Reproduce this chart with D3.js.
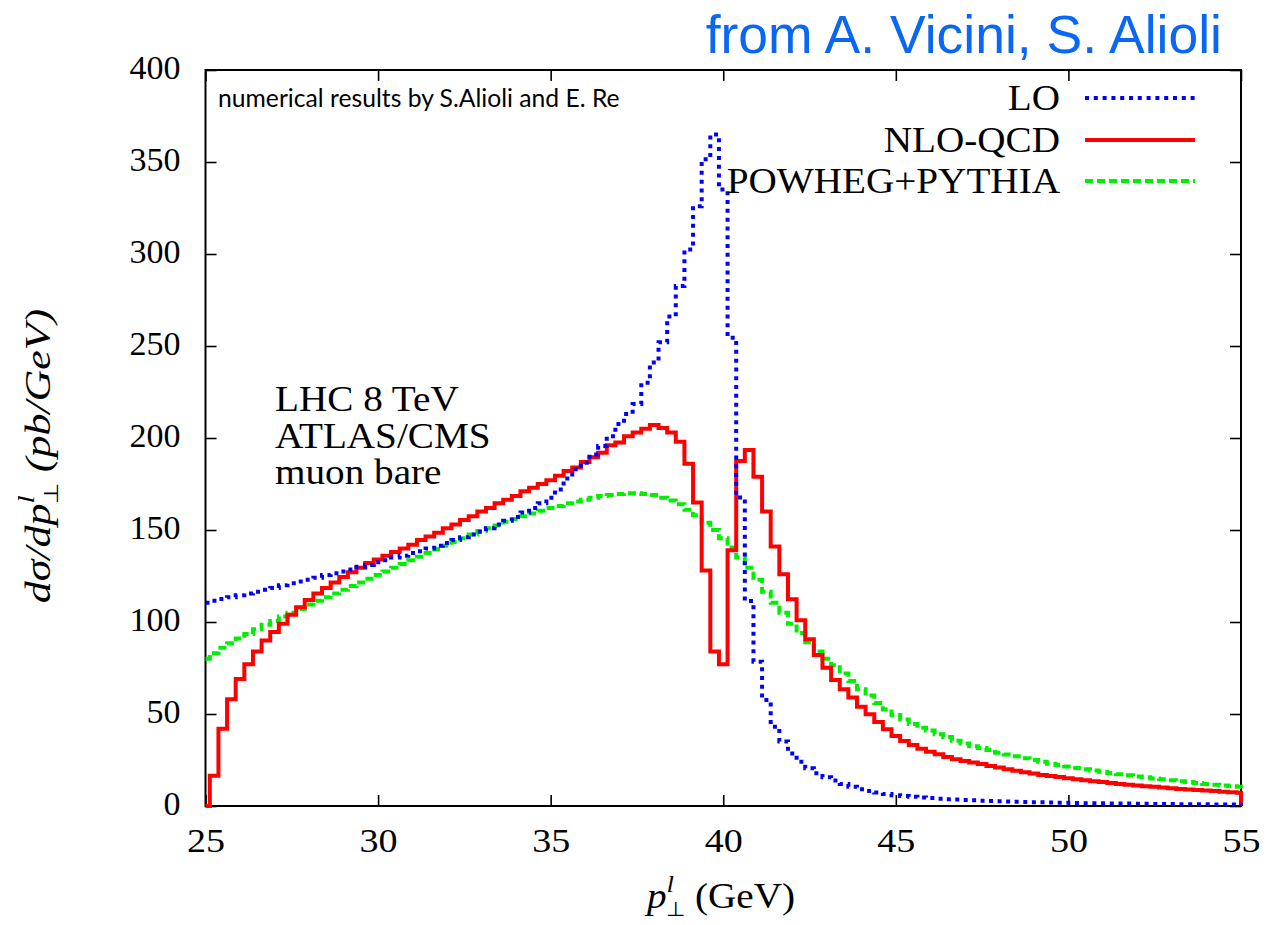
<!DOCTYPE html>
<html>
<head>
<meta charset="utf-8">
<script src="https://cdn.jsdelivr.net/npm/d3@7"></script>
<style>
  body { margin: 0; background: #fff; }
  svg { display: block; }
  .tick text { font-family: 'Liberation Serif', serif; font-size: 34px; fill: #000; }
</style>
</head>
<body>
<div id="chart"></div>
<script>
// Histogram bins: 0.25 GeV wide, one value per bin centre from 25 to 55 GeV
const binStart = 25;
const binWidth = 0.25;

const xTicks = [25, 30, 35, 40, 45, 50, 55];
const yTicks = [0, 50, 100, 150, 200, 250, 300, 350, 400];

// LO (blue, dotted)
const loValues = [
  110.5, 111.5, 112.5, 113.5, 114.5, 115.5, 116.5, 117.5, 118.5, 120,
  121, 122, 123, 124, 125.5, 126.5, 127.5, 128.5, 130, 131,
  132.5, 133.5, 135, 136, 137.5, 138.5, 140, 141.5, 143, 144.5,
  146, 147.5, 149, 151, 153, 155, 157, 159.5, 162, 164.5,
  167.5, 172, 178, 183, 186.6, 191, 195.6, 201, 207.6, 213,
  218.5, 230, 241, 252, 266, 282.6, 302.5, 326, 351.5, 365,
  335, 254.5, 167.6, 111.4, 78.4, 57.6, 43.1, 35, 28.6, 24,
  20.5, 17.8, 15.6, 13.8, 12, 10.5, 9.1, 8.2, 7.3, 6.5,
  5.9, 5.4, 5.0, 4.6, 4.3, 4.0, 3.7, 3.5, 3.3, 3.1,
  2.9, 2.75, 2.6, 2.45, 2.3, 2.2, 2.1, 2.0, 1.9, 1.8,
  1.7, 1.6, 1.55, 1.5, 1.45, 1.4, 1.35, 1.3, 1.25, 1.2,
  1.15, 1.1, 1.05, 1.0, 0.97, 0.94, 0.91, 0.88, 0.85, 0.82,
  0.8
];

// NLO-QCD (red, solid)
const nloValues = [
  0, 16.5, 42, 58, 69, 77, 84, 90, 94.5, 99,
  104, 108, 112, 115.5, 118.5, 121.5, 124.5, 127, 129.5, 132,
  134, 136, 138, 140, 142, 144.5, 146.5, 148.5, 151, 153,
  155.5, 157.5, 160, 162, 164.5, 166.5, 168.5, 171, 173, 175,
  177, 179.5, 182, 184, 187, 189.5, 192, 196, 197.5, 201,
  203, 205, 207, 205.5, 203, 198, 186, 165, 128, 84,
  77, 139, 187.5, 193.5, 179, 160, 141, 126, 112.3, 101,
  90.6, 82, 75.2, 68.5, 63.4, 58.9, 54, 49.8, 45.6, 41.7,
  38, 35.3, 33.2, 31.1, 29.5, 28.1, 26.6, 25.4, 24.5, 23.6,
  22.8, 21.8, 20.9, 20.0, 19.2, 18.4, 17.6, 16.9, 16.3, 15.7,
  15.1, 14.5, 14.0, 13.5, 13.0, 12.5, 12.0, 11.6, 11.2, 10.8,
  10.4, 10.0, 9.7, 9.3, 9.0, 8.7, 8.4, 8.1, 7.8, 7.5,
  7.2
];

// POWHEG+PYTHIA (green, dashed)
const powhegValues = [
  80, 83, 86, 88.5, 91, 93.5, 96, 98.5, 100.5, 103,
  105, 107, 109.5, 111.5, 113.5, 115.5, 117.5, 119.5, 121.5, 123.5,
  125.5, 127.5, 129.5, 131.5, 133.5, 135.5, 137.5, 139.5, 141.5, 143.5,
  145.5, 147.5, 149.5, 151, 152.5, 154.5, 156, 157.5, 159, 160.5,
  162, 163, 164.5, 165.5, 166.5, 167.5, 168.5, 169, 169.5, 170,
  170, 169.5, 169, 167.5, 166, 164, 161, 158, 154, 150,
  145.5, 140.5, 135, 129.5, 123, 116.5, 110.5, 105, 99, 94,
  89, 84, 80, 76.5, 72, 68, 63.5, 60, 56, 52.5,
  49.5, 47, 44.5, 42.5, 41, 39, 37.5, 35.5, 34, 32.5,
  31.5, 30.5, 29, 28, 27, 26, 25, 24, 23, 22.3,
  21.5, 20.7, 20, 19.3, 18.6, 18, 17.3, 16.7, 16.1, 15.6,
  15, 14.5, 14, 13.5, 13, 12.5, 12, 11.6, 11.2, 10.8,
  10.4
];

const seriesNames = ['LO', 'NLO-QCD', 'POWHEG+PYTHIA'];
const infoLines = ['LHC 8 TeV', 'ATLAS/CMS', 'muon bare'];

const width = 1269;
const height = 925;
const plotLeft = 205.5;
const plotRight = 1241;
const plotTop = 70;
const plotBottom = 806;

// Computer Modern is wider than Liberation Serif: stretch serif text a bit
const cmStretch = 1.12;
const serif = 'Liberation Serif, serif';

const svg = d3
  .select('#chart')
  .append('svg')
  .attr('width', width)
  .attr('height', height);

// Scales
const x = d3.scaleLinear().domain([25, 55]).range([plotLeft, plotRight]);
const y = d3.scaleLinear().domain([0, 400]).range([plotBottom, plotTop]);

// X axis (ticks inside)
svg
  .append('g')
  .attr('transform', `translate(0,${plotBottom})`)
  .call(d3.axisBottom(x).tickValues(xTicks).tickSize(-11).tickPadding(22))
  .call((g) => g.select('.domain').remove())
  .call((g) => g.selectAll('.tick line').attr('stroke', '#000').attr('stroke-width', 1.6))
  .call((g) => g.selectAll('.tick text').attr('transform', `scale(${cmStretch},1)`));

// Mirror ticks on top
svg
  .append('g')
  .attr('transform', `translate(0,${plotTop})`)
  .call(d3.axisTop(x).tickValues(xTicks).tickSize(-11).tickFormat(''))
  .call((g) => g.select('.domain').remove())
  .call((g) => g.selectAll('.tick line').attr('stroke', '#000').attr('stroke-width', 1.6));

// Y axis (ticks inside)
svg
  .append('g')
  .attr('transform', `translate(${plotLeft},0)`)
  .call(d3.axisLeft(y).tickValues(yTicks).tickSize(-11).tickPadding(25))
  .call((g) => g.select('.domain').remove())
  .call((g) => g.selectAll('.tick line').attr('stroke', '#000').attr('stroke-width', 1.6))
  .call((g) => g.selectAll('.tick text').attr('dy', '0.24em'));

// Mirror ticks on the right
svg
  .append('g')
  .attr('transform', `translate(${plotRight},0)`)
  .call(d3.axisRight(y).tickValues(yTicks).tickSize(-11).tickFormat(''))
  .call((g) => g.select('.domain').remove())
  .call((g) => g.selectAll('.tick line').attr('stroke', '#000').attr('stroke-width', 1.6));

// Frame
svg
  .append('rect')
  .attr('x', plotLeft)
  .attr('y', plotTop)
  .attr('width', plotRight - plotLeft)
  .attr('height', plotBottom - plotTop)
  .attr('fill', 'none')
  .attr('stroke', '#000')
  .attr('stroke-width', 2);

// Build histogram points, closed to zero at the right edge like gnuplot histeps
const toPoints = (values) => {
  const pts = values.map((v, i) => ({ x: binStart + i * binWidth, y: v }));
  pts.push({ x: pts[pts.length - 1].x, y: 0 });
  return pts;
};

const line = d3
  .line()
  .x((d) => x(d.x))
  .y((d) => y(d.y))
  .curve(d3.curveStep);

const series = [
  { name: seriesNames[0], values: loValues, color: '#0000ff', dash: '4,4.8' },
  { name: seriesNames[1], values: nloValues, color: '#ff0000', dash: null },
  { name: seriesNames[2], values: powhegValues, color: '#00ee00', dash: '8,4' }
];

// Draw in gnuplot order: green under red under blue
svg
  .append('g')
  .selectAll('path')
  .data(series.slice().reverse())
  .join('path')
  .attr('d', (d) => line(toPoints(d.values)))
  .attr('fill', 'none')
  .attr('stroke', (d) => d.color)
  .attr('stroke-width', 4)
  .attr('stroke-dasharray', (d) => d.dash);

// Legend
const legendY = [98, 140, 181];
const legend = svg.append('g');
legend
  .selectAll('text')
  .data(series)
  .join('text')
  .attr('transform', (d, i) => `translate(1060,${legendY[i] + 12}) scale(${cmStretch},1)`)
  .attr('text-anchor', 'end')
  .attr('font-family', serif)
  .attr('font-size', 35)
  .text((d) => d.name);
legend
  .selectAll('line')
  .data(series)
  .join('line')
  .attr('x1', 1085)
  .attr('x2', 1195)
  .attr('y1', (d, i) => legendY[i])
  .attr('y2', (d, i) => legendY[i])
  .attr('stroke', (d) => d.color)
  .attr('stroke-width', 4)
  .attr('stroke-dasharray', (d) => d.dash);

// Note in the top left corner
svg
  .append('text')
  .attr('x', 218)
  .attr('y', 107)
  .attr('font-family', 'Lato, sans-serif')
  .attr('font-size', 24.7)
  .text('numerical results by S.Alioli and E. Re');

// Run info
svg
  .append('g')
  .selectAll('text')
  .data(infoLines)
  .join('text')
  .attr('transform', (d, i) => `translate(275,${411 + i * 36.5}) scale(${cmStretch},1)`)
  .attr('font-family', serif)
  .attr('font-size', 35)
  .text((d) => d);

// Title
svg
  .append('text')
  .attr('x', 1222)
  .attr('y', 53)
  .attr('text-anchor', 'end')
  .attr('font-family', 'Liberation Sans, Arial, sans-serif')
  .attr('font-size', 53.5)
  .attr('fill', '#0a66f5')
  .text('from A. Vicini, S. Alioli');

// X axis label
const xLabel = svg
  .append('text')
  .attr('transform', `translate(721,908) scale(${cmStretch},1)`)
  .attr('text-anchor', 'middle')
  .attr('font-family', serif)
  .attr('font-size', 35);
xLabel.append('tspan').attr('font-style', 'italic').text('p');
xLabel.append('tspan').attr('font-style', 'italic').attr('font-size', 24).attr('dy', -16).text('l');
xLabel.append('tspan').attr('font-size', 20).attr('dx', -7).attr('dy', 24).text('⊥');
xLabel.append('tspan').attr('dy', -8).text('\u00a0(GeV)');

// Y axis label
const yLabel = svg
  .append('text')
  .attr('transform', 'translate(50,456) rotate(-90) scale(1.22,1)')
  .attr('text-anchor', 'middle')
  .attr('font-family', serif)
  .attr('font-style', 'italic')
  .attr('font-size', 36);
yLabel.append('tspan').text('dσ/dp');
yLabel.append('tspan').attr('font-size', 24).attr('dy', -16).text('l');
yLabel.append('tspan').attr('font-size', 20).attr('font-style', 'normal').attr('dx', -7).attr('dy', 24).text('⊥');
yLabel.append('tspan').attr('dy', -8).text('\u00a0(pb/GeV)');
</script>
</body>
</html>
